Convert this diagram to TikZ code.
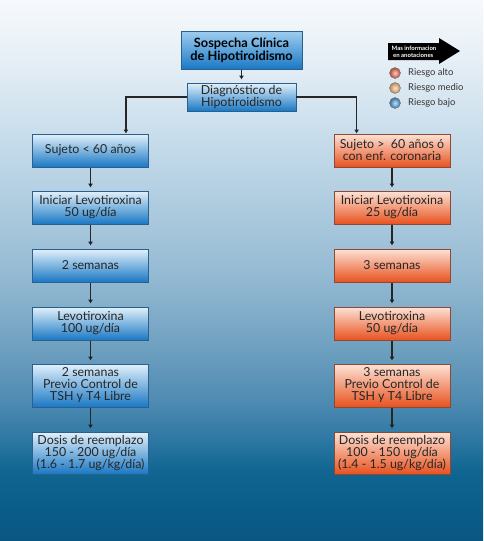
\documentclass[tikz,border=0pt]{standalone}
\usepackage{fontspec}
\setmainfont{Lato}
\usetikzlibrary{arrows.meta,shadings}

\definecolor{bgA}{HTML}{0A5683}
\definecolor{bgB}{HTML}{0A5F8B}
\definecolor{bgC}{HTML}{106691}
\definecolor{bgD}{HTML}{2D77A3}
\definecolor{bgE}{HTML}{4F8BB2}
\definecolor{bgF}{HTML}{73A3C2}
\definecolor{bgG}{HTML}{96BBD4}
\definecolor{bgH}{HTML}{B0CDE0}
\definecolor{bgI}{HTML}{CADEEC}
\definecolor{bgJ}{HTML}{E6EFF6}
\definecolor{bgK}{HTML}{F6F9FC}
\pgfdeclareverticalshading{bgfade}{100bp}{color(0bp)=(bgA); color(25bp)=(bgA);
  color(28.8bp)=(bgB); color(31.6bp)=(bgC); color(34.3bp)=(bgD); color(38bp)=(bgE);
  color(43.6bp)=(bgF); color(50bp)=(bgG); color(56.5bp)=(bgH); color(63bp)=(bgI);
  color(69.5bp)=(bgJ); color(75bp)=(bgK); color(100bp)=(bgK)}

\definecolor{bluetop}{HTML}{E2F1FB}
\definecolor{bluemid}{HTML}{3A99DE}
\definecolor{bluebot}{HTML}{1A78C4}
\definecolor{blueedge}{HTML}{2B5F8E}
\definecolor{redtop}{HTML}{FDE3D6}
\definecolor{redmid}{HTML}{F47848}
\definecolor{redbot}{HTML}{E8521F}
\definecolor{rededge}{HTML}{8C4A34}
\definecolor{arrowgray}{HTML}{262626}
\definecolor{ballred}{HTML}{EE5A3C}
\definecolor{ballorange}{HTML}{F7B36E}
\definecolor{ballblue}{HTML}{3B93DC}

\tikzset{
  box/.style={draw, line width=0.8pt, align=center, inner sep=1pt,
    font=\fontsize{12.4}{12}\selectfont, text=black!85},
  bluebox/.style={box, draw=blueedge, top color=bluetop, middle color=bluemid, bottom color=bluebot},
  redbox/.style={box, draw=rededge, top color=redtop, middle color=redmid, bottom color=redbot},
  colbox/.style={minimum width=116pt, minimum height=33pt},
  arr/.style={draw=arrowgray, line width=1.2pt, -{Latex[length=4pt,width=5pt]},
    shorten >=3pt, shorten <=1pt},
  legtext/.style={anchor=west, font=\fontsize{9.4}{10}\selectfont, text=black!80, inner sep=0pt},
  legball/.style={circle, draw=black!55, line width=0.4pt, minimum size=11pt, inner sep=0pt, shading=radial}
}

\begin{document}
\begin{tikzpicture}[x=1pt,y=-1pt]
  \useasboundingbox (0,0) rectangle (483,541);
  \fill[shading=bgfade] (0,0) rectangle (483,541);

  \node[bluebox, minimum width=121pt, minimum height=38pt, top color=bluetop!60!bluemid,
    font=\fontsize{12.8}{13}\selectfont\bfseries, text=black](1) at (241.5, 50) {Sospecha Clínica\\de Hipotiroidismo};
  \node[bluebox, minimum width=109pt, minimum height=28pt](2) at (241.5, 97) {Diagnóstico de\\Hipotiroidismo};

  \node[bluebox, colbox](3) at (90.5, 150.5) {Sujeto < 60 años};
  \node[bluebox, colbox](4) at (90.5, 207.5) {Iniciar Levotiroxina\\50 ug/día};
  \node[bluebox, colbox](5) at (90.5, 265.5) {2 semanas};
  \node[bluebox, colbox](6) at (90.5, 323.5) {Levotiroxina\\100 ug/día};
  \node[bluebox, colbox, minimum height=43pt](7) at (90.5, 385.5) {2 semanas\\Previo Control de\\TSH y T4 Libre};
  \node[bluebox, colbox, minimum height=42pt](8) at (90.5, 453) {Dosis de reemplazo\\150 - 200 ug/día\\(1.6 - 1.7 ug/kg/día)};

  \node[redbox, colbox](9) at (392, 150.5) {Sujeto > \ 60 años ó\\con enf. coronaria};
  \node[redbox, colbox](10) at (392, 207.5) {Iniciar Levotiroxina\\25 ug/día};
  \node[redbox, colbox](11) at (392, 265.5) {3 semanas};
  \node[redbox, colbox](12) at (392, 323.5) {Levotiroxina\\50 ug/día};
  \node[redbox, colbox, minimum height=43pt](13) at (392, 385.5) {3 semanas\\Previo Control de\\TSH y T4 Libre};
  \node[redbox, colbox, minimum height=42pt](14) at (392, 453) {Dosis de reemplazo\\100 - 150 ug/día\\(1.4 - 1.5 ug/kg/día)};

  \path[arr] (1) edge (2);
  \draw[arr, shorten <=0pt, shorten >=0pt] (2.west) -| ([xshift=-23pt]3.north east);
  \draw[arr, shorten <=0pt, shorten >=0pt] (2.east) -| ([xshift=23pt]9.north west);
  \path[arr] (3) edge (4) (4) edge (5) (5) edge (6) (6) edge (7) (7) edge (8);
  \path[arr] (9) edge (10) (10) edge (11) (11) edge (12) (12) edge (13) (13) edge (14);

  \fill[black] (388,43) -- (439,43) -- (439,38) -- (460,51) -- (439,64) -- (439,60) -- (388,60) -- cycle;
  \node[align=left, text=white, font=\fontsize{6}{6.8}\selectfont\bfseries, inner sep=0pt](15) at (414, 51.5) {Mas informacion\\\ en anotaciones};

  \node[legball, inner color=ballred!30!white, outer color=ballred!75!black](16) at (395, 73) {};
  \node[legball, inner color=ballorange!30!white, outer color=ballorange!75!black](17) at (395, 88) {};
  \node[legball, inner color=ballblue!30!white, outer color=ballblue!75!black](18) at (395, 103) {};
  \node[legtext](19) at (408, 73) {Riesgo alto};
  \node[legtext](20) at (408, 88) {Riesgo medio};
  \node[legtext](21) at (408, 103) {Riesgo bajo};
\end{tikzpicture}
\end{document}
